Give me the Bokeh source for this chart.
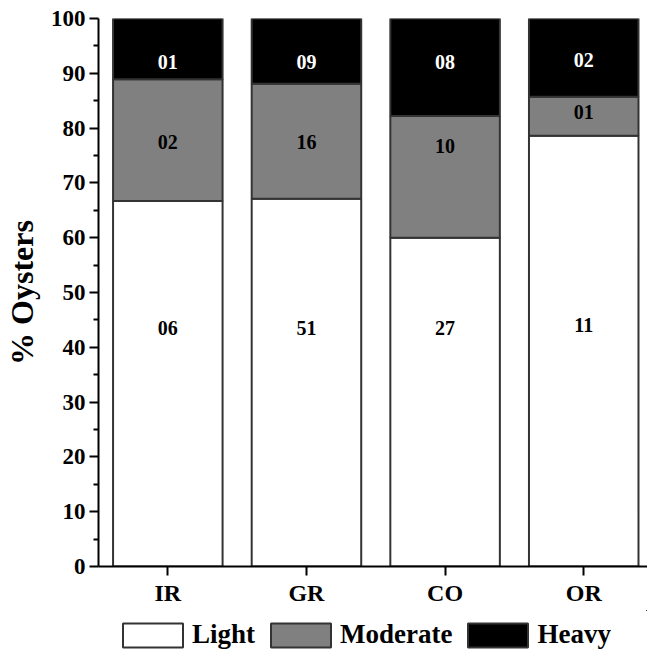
from bokeh.plotting import figure
from bokeh.layouts import column
from bokeh.models import ColumnDataSource, Range1d, FixedTicker, Legend, LegendItem
from bokeh.core.properties import value
from bokeh.embed import file_html
from bokeh.resources import INLINE

# ---- data ----
sites = ["IR", "GR", "CO", "OR"]
levels = ["Light", "Moderate", "Heavy"]
light = [66.7, 67.1, 60.0, 78.6]       # % oysters, light infection
moderate = [22.2, 21.0, 22.2, 7.1]     # % oysters, moderate infection
heavy = [11.1, 11.9, 17.8, 14.3]       # % oysters, heavy infection
n_light = [6, 51, 27, 11]
n_moderate = [2, 16, 10, 1]
n_heavy = [1, 9, 8, 2]
y_ticks = [0, 10, 20, 30, 40, 50, 60, 70, 80, 90, 100]

# label placement (layout only)
lab_y_light = [43.5, 43.5, 43.5, 44.0]
lab_y_moderate = [77.5, 77.5, 76.8, 83.0]
lab_y_heavy = [92.0, 92.0, 92.0, 92.5]

FONT = "Liberation Serif"
COLORS = ["white", "#808080", "black"]
xs = [i + 0.5 for i in range(len(sites))]

src = ColumnDataSource(dict(x=xs, Light=light, Moderate=moderate, Heavy=heavy))

p = figure(width=647, height=610, output_backend="svg", toolbar_location=None,
           x_range=Range1d(0, 3.96), y_range=Range1d(0, 100),
           min_border_left=98, min_border_right=0, min_border_top=18,
           min_border_bottom=44)

rs = p.vbar_stack(levels, x="x", width=0.79, source=src,
                  fill_color=COLORS, line_color="#333333", line_width=2)

# segment labels
lab_x = xs * 3
lab_y = lab_y_light + lab_y_moderate + lab_y_heavy
lab_t = [f"{n:02d}" for n in n_light + n_moderate + n_heavy]
lab_c = ["black"] * 4 + ["black"] * 4 + ["white"] * 4
p.text(x=lab_x, y=lab_y, text=lab_t, text_color=lab_c,
       text_font=value(FONT), text_font_style="bold", text_font_size="20px",
       text_align="center", text_baseline="middle")

p.xgrid.visible = False
p.ygrid.visible = False
p.outline_line_color = None

for ax in (p.xaxis[0], p.yaxis[0]):
    ax.axis_line_width = 2
    ax.axis_line_color = "black"
    ax.major_tick_line_width = 2
    ax.minor_tick_line_width = 2
    ax.major_tick_in = 0
    ax.major_tick_out = 9
    ax.minor_tick_in = 0
    ax.minor_tick_out = 5
    ax.major_label_text_font = FONT
    ax.major_label_text_font_style = "bold"
    ax.major_label_text_color = "black"

p.yaxis.ticker = FixedTicker(ticks=y_ticks, minor_ticks=[v + 5 for v in y_ticks[:-1]])
p.yaxis.major_label_text_font_size = "23px"
p.yaxis.major_label_standoff = 4
p.yaxis.axis_label = "% Oysters"
p.yaxis.axis_label_text_font = FONT
p.yaxis.axis_label_text_font_style = "bold"
p.yaxis.axis_label_text_font_size = "32px"
p.yaxis.axis_label_text_color = "black"
p.yaxis.axis_label_standoff = 8

p.xaxis.ticker = FixedTicker(ticks=xs, minor_ticks=[])
p.xaxis.major_label_overrides = {x: s for x, s in zip(xs, sites)}
p.xaxis.major_label_text_font_size = "24px"
p.xaxis.major_label_standoff = 4

# ---- legend strip below the chart (proxy bars kept out of view) ----
lg = figure(width=647, height=40, output_backend="svg", toolbar_location=None,
            x_range=Range1d(-10, -9), y_range=Range1d(-10, -9),
            min_border_left=0, min_border_right=0, min_border_top=0,
            min_border_bottom=0, x_axis_type=None, y_axis_type=None)
lg.xgrid.visible = False
lg.ygrid.visible = False
lg.outline_line_color = None
lrs = lg.vbar_stack(levels, x="x", width=0.79, source=src,
                    fill_color=COLORS, line_color="#333333", line_width=2)

legend = Legend(items=[LegendItem(label=l, renderers=[r]) for l, r in zip(levels, lrs)],
                location=(17, 0), orientation="horizontal")
legend.glyph_width = 75
legend.glyph_height = 30
legend.label_standoff = 2
legend.spacing = 8
legend.padding = 0
legend.margin = 0
legend.border_line_alpha = 0
legend.background_fill_alpha = 0
legend.label_text_font = FONT
legend.label_text_font_style = "bold"
legend.label_text_font_size = "27px"
legend.label_text_color = "black"
legend.label_height = 30
lg.add_layout(legend)

layout = column(p, lg, spacing=0)
open("out.html", "w").write(file_html(layout, INLINE))
